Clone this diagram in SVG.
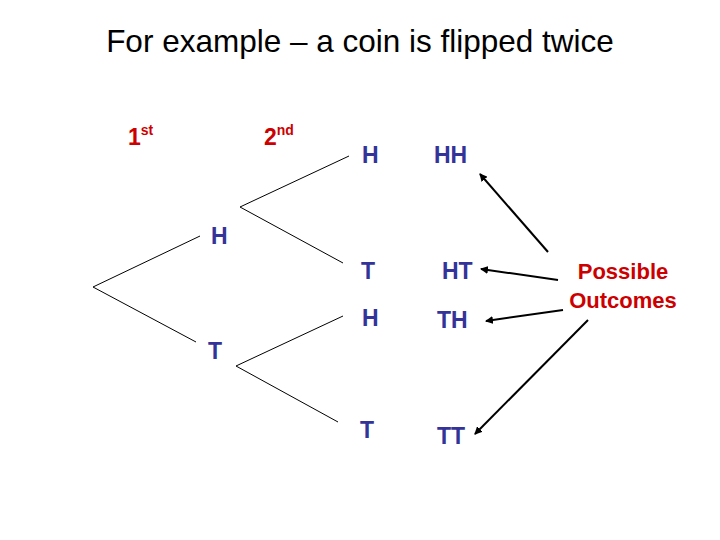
<svg xmlns="http://www.w3.org/2000/svg" width="720" height="540" viewBox="0 0 720 540">
<style>
.b{font-family:"Liberation Sans",Arial,sans-serif;font-size:23px;font-weight:bold;fill:#333399}
.r{font-family:"Liberation Sans",Arial,sans-serif;font-size:23px;font-weight:bold;fill:#cc0000}
.o{font-family:"Liberation Sans",Arial,sans-serif;font-size:22px;font-weight:bold;fill:#cc0000}
.l{stroke:#000;stroke-width:1;fill:none}
.a{stroke:#000;stroke-width:2;fill:none;marker-end:url(#ah)}
</style>
<defs><marker id="ah" markerWidth="8" markerHeight="8" refX="7" refY="4" orient="auto" markerUnits="userSpaceOnUse"><path d="M0,0 L8,4 L0,8 Z" fill="#000"/></marker></defs>
<rect width="720" height="540" fill="#fff"/>
<text x="360" y="52" text-anchor="middle" font-family="Liberation Sans,Arial,sans-serif" font-size="31.5" fill="#000">For example – a coin is flipped twice</text>
<g id="labels1"><text class="r" x="128" y="145">1<tspan font-size="14" dy="-10">st</tspan></text>
<text class="r" x="264" y="145">2<tspan font-size="14" dy="-10">nd</tspan></text></g>
<g id="connectors">
<path class="l" d="M200,236 L93,287 L196,342"/>
<path class="l" d="M349,156 L240,207 L343,263"/>
<path class="l" d="M343,316 L236,366 L338,422"/>
<line class="a" x1="548" y1="252" x2="480" y2="174"/>
<line class="a" x1="558" y1="280" x2="481" y2="269"/>
<line class="a" x1="563" y1="310" x2="486" y2="321"/>
<line class="a" x1="588" y1="320" x2="475" y2="434"/>
</g>
<g id="n1H"><text class="b" x="211" y="244">H</text></g>
<g id="n1T"><text class="b" x="208" y="359">T</text></g>
<g id="n2HH"><text class="b" x="362" y="163">H</text><text class="b" x="434" y="163">HH</text></g>
<g id="n2HT"><text class="b" x="361" y="279">T</text><text class="b" x="442" y="279">HT</text></g>
<g id="n2TH"><text class="b" x="362" y="326">H</text><text class="b" x="437" y="328">TH</text></g>
<g id="n2TT"><text class="b" x="360" y="438">T</text><text class="b" x="437" y="444">TT</text></g>
<g id="outcomes"><text class="o" x="623" y="279" text-anchor="middle">Possible</text><text class="o" x="623" y="308" text-anchor="middle">Outcomes</text></g>
</svg>
